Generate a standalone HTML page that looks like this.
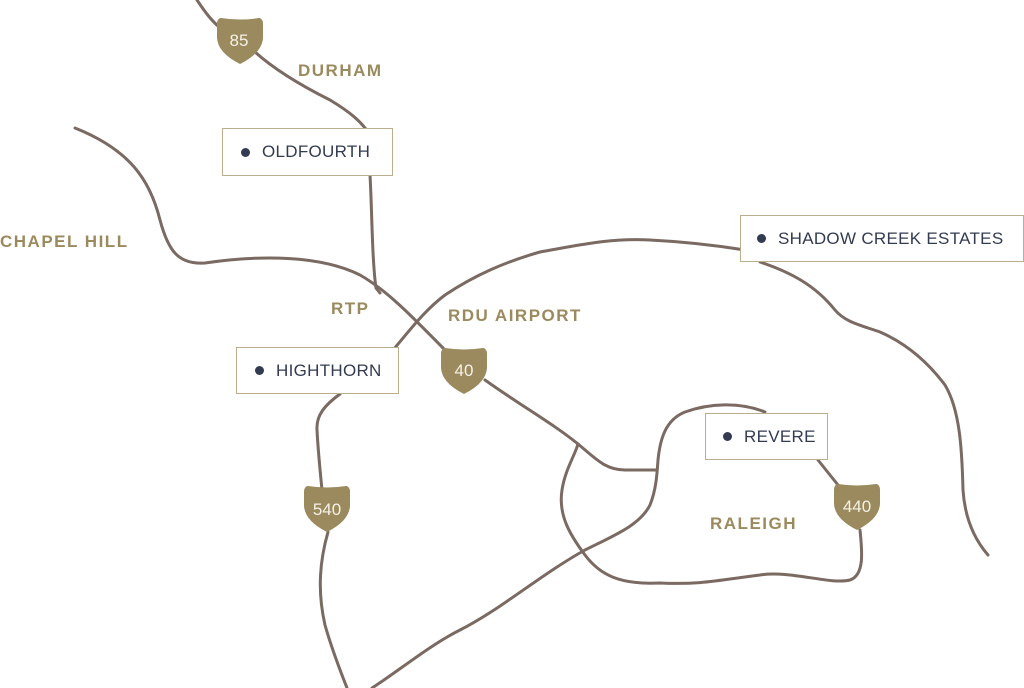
<!DOCTYPE html>
<html><head><meta charset="utf-8"><style>
html,body{margin:0;padding:0;background:#fff;}
body{width:1024px;height:688px;overflow:hidden;position:relative;font-family:"Liberation Sans",sans-serif;}
svg{position:absolute;left:0;top:0;}
.lbl{position:absolute;color:#9a8a5e;font-weight:bold;font-size:17px;letter-spacing:1.5px;white-space:nowrap;}
.box{position:absolute;background:#fff;border:1.5px solid #bcae8c;box-sizing:border-box;color:#323b52;font-size:17px;letter-spacing:0.3px;display:flex;align-items:center;white-space:nowrap;}
.box::before{content:"";width:9px;height:9px;border-radius:50%;background:#323b52;margin:0 12px 0 0;}
</style></head><body>
<svg width="1024" height="688" viewBox="0 0 1024 688">
<g fill="none" stroke="#7a6a62" stroke-width="3" stroke-linecap="round">
<path d="M197 0 C205 12 212 22 225 32 M255 52 C275 70 300 85 330 100 C350 112 362 122 370 135 L370 175 C372 210 372 260 376 288 L380 293"/>
<path d="M75 128 C130 150 150 180 160 220 C168 250 178 265 205 263 C260 255 320 255 360 275 C390 292 420 325 445 350 M485 380 C520 405 555 425 578 444 C595 458 605 470 625 470 L657 470"/>
<path d="M393 350 C410 330 425 310 445 295 C475 275 505 262 540 252 C580 245 610 238 650 240 C690 242 720 246 745 250 M760 262 C790 272 815 285 835 310 C845 322 860 325 880 332 C910 345 930 365 945 385 C960 410 962 450 963 490 C965 520 975 540 988 555"/>
<path d="M340 394 C325 405 316 415 317 430 C318 450 320 470 322 490 M328 532 C320 560 317 590 325 625 C332 650 340 670 347 688"/>
<path d="M372 688 C400 670 430 645 460 630 C500 610 540 575 585 550 C615 535 640 525 650 505 C656 490 657 475 658 460 C660 440 665 420 685 412 C710 403 740 402 765 412"/>
<path d="M818 460 L842 490 M860 530 C862 550 865 575 850 580 C830 585 790 570 760 575 C720 580 700 585 660 583 C620 585 600 575 585 555 C570 535 558 515 562 490 C565 470 575 455 578 444"/>
</g>
<g fill="#9a8a5e">
<path id="sh" d="M-19 0 Q0 3 19 0 Q21 0 22 2 Q23 3 23 6 L23 20 Q22 35 0 46 Q-22 35 -23 20 L-23 6 Q-23 3 -22 2 Q-21 0 -19 0Z" transform="translate(240 18)"/>
<use href="#sh" transform="translate(224 330)"/>
<use href="#sh" transform="translate(87 468)"/>
<use href="#sh" transform="translate(617 466)"/>
</g>
<g fill="#f5f1e6" font-family="Liberation Sans, sans-serif" font-size="17" text-anchor="middle">
<text x="239" y="46">85</text>
<text x="464" y="376">40</text>
<text x="327" y="515">540</text>
<text x="857" y="512">440</text>
</g>
</svg>
<div class="lbl" style="left:298px;top:61px;">DURHAM</div>
<div class="lbl" style="left:0px;top:232px;">CHAPEL HILL</div>
<div class="lbl" style="left:331px;top:299px;">RTP</div>
<div class="lbl" style="left:448px;top:306px;">RDU AIRPORT</div>
<div class="lbl" style="left:710px;top:514px;">RALEIGH</div>
<div class="box" style="left:222px;top:128px;width:171px;height:48px;padding-left:18px;">OLDFOURTH</div>
<div class="box" style="left:740px;top:215px;width:284px;height:47px;padding-left:16px;">SHADOW CREEK ESTATES</div>
<div class="box" style="left:236px;top:347px;width:163px;height:47px;padding-left:18px;">HIGHTHORN</div>
<div class="box" style="left:705px;top:413px;width:123px;height:47px;padding-left:17px;">REVERE</div>
</body></html>
